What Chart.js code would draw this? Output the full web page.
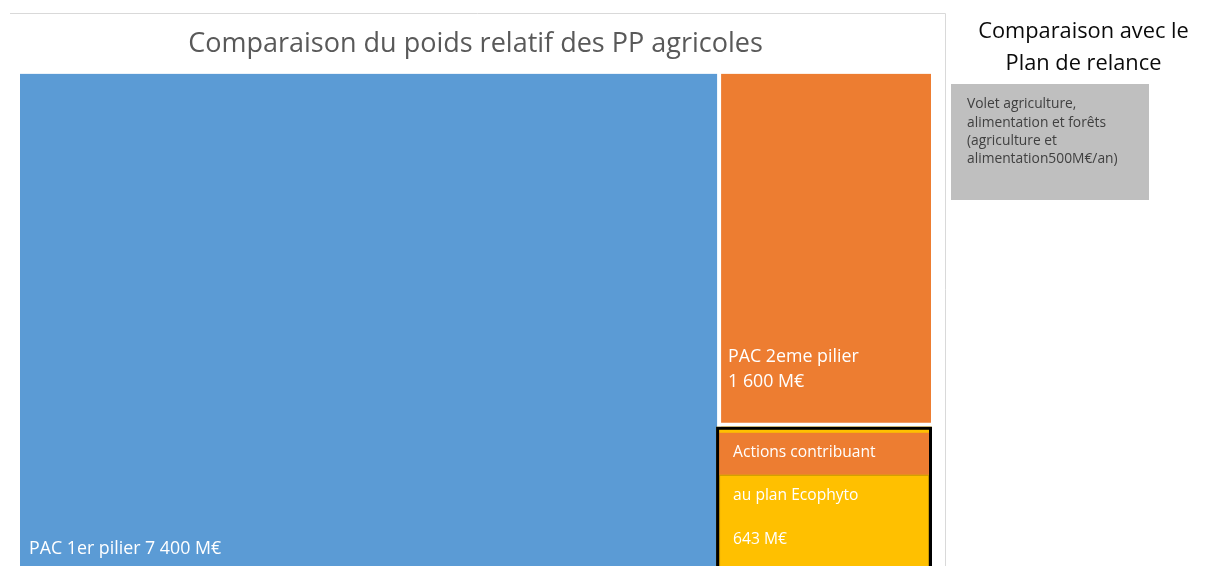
<!DOCTYPE html>
<html><head><meta charset="utf-8">
<script src="https://cdn.jsdelivr.net/npm/chart.js@4.4.1/dist/chart.umd.min.js"></script>
<style>html,body{margin:0;padding:0;background:#fff}#wrap{width:1209px;height:566px;position:relative;overflow:hidden}</style>
</head><body><div id="wrap"><canvas id="c" width="1209" height="566"></canvas></div>
<script>
// ---- data ----
const chartTitle = 'Comparaison du poids relatif des PP agricoles';
const categories = ['PAC 1er pilier', 'PAC 2eme pilier', 'Actions contribuant au plan Ecophyto'];
const values = [7400, 1600, 643];
const valueLabels = ['7 400 M€', '1 600 M€', '643 M€'];
const ecophytoLines = ['Actions contribuant', 'au plan Ecophyto'];
const colors = ['#5b9bd5', '#ed7d31', '#ffc000'];
const sideTitle = ['Comparaison avec le', 'Plan de relance'];
const sideBoxLines = ['Volet agriculture,', 'alimentation et forêts', '(agriculture et', 'alimentation500M€/an)'];

// ---- treemap layout derived from the values ----
const total = values.reduce((a, b) => a + b, 0);
const colSplit = values[0];
const ySplit = values[2] / (values[1] + values[2]);

const FONT = '"Open Sans", "Noto Sans", sans-serif';
const base = {borderWidth: 0, borderColor: 'transparent', pointRadius: 0, pointHoverRadius: 0, showLine: true, tension: 0};

const decor = {
  id: 'decor',
  beforeDraw(chart) {
    const ctx = chart.ctx;
    ctx.save();
    ctx.strokeStyle = '#d9d9d9'; ctx.lineWidth = 1;
    ctx.beginPath(); ctx.moveTo(10, 13.5); ctx.lineTo(945.5, 13.5); ctx.lineTo(945.5, 566); ctx.stroke();
    ctx.restore();
  },
  afterDatasetsDraw(chart) {
    const ctx = chart.ctx, xs = chart.scales.x, ys = chart.scales.y;
    const px0 = xs.getPixelForValue(0), pxS = xs.getPixelForValue(colSplit), px1 = xs.getPixelForValue(total);
    const pyTop = ys.getPixelForValue(1), pyBot = ys.getPixelForValue(0), pyS = ys.getPixelForValue(ySplit);
    ctx.save();
    // white gaps between tiles
    ctx.strokeStyle = '#fff'; ctx.lineWidth = 4;
    ctx.beginPath(); ctx.moveTo(pxS, pyTop - 1); ctx.lineTo(pxS, pyBot + 1); ctx.stroke();
    ctx.beginPath(); ctx.moveTo(pxS, pyS); ctx.lineTo(px1 + 1, pyS); ctx.stroke();
    // tile labels
    ctx.fillStyle = '#fff'; ctx.textBaseline = 'alphabetic'; ctx.textAlign = 'left';
    ctx.font = '17.8px ' + FONT;
    ctx.fillText(categories[0] + ' ' + valueLabels[0], px0 + 9, pyBot - 12);
    ctx.fillText(categories[1], pxS + 9, pyS - 63);
    ctx.fillText(valueLabels[1], pxS + 9, pyS - 38);
    // Ecophyto overlay box
    const L = pxS - 3, R = px1 + 1, T = pyS + 2, B = pyBot + 6;
    ctx.fillStyle = colors[2]; ctx.fillRect(L, T, R - L, B - T);
    ctx.fillStyle = colors[1]; ctx.fillRect(L + 3, T + 6, R - L - 5, 42);
    ctx.strokeStyle = '#c99700'; ctx.lineWidth = 1;
    ctx.strokeRect(L + 3.5, T + 48.5, R - L - 7, B - T);
    ctx.strokeStyle = '#000'; ctx.lineWidth = 3;
    ctx.strokeRect(L + 1.5, T + 1.5, R - L - 3, B - T + 10);
    ctx.fillStyle = '#fff'; ctx.font = '15.6px ' + FONT;
    ctx.fillText(ecophytoLines[0], L + 17, T + 30);
    ctx.fillText(ecophytoLines[1], L + 17, T + 73);
    ctx.fillText(valueLabels[2], L + 17, T + 117);
    // side panel
    ctx.fillStyle = '#0a0a0a'; ctx.textAlign = 'center'; ctx.font = '21.8px ' + FONT;
    ctx.fillText(sideTitle[0], 1083.5, 38);
    ctx.fillText(sideTitle[1], 1083.5, 70);
    ctx.fillStyle = '#bfbfbf'; ctx.fillRect(951, 84, 198, 116);
    ctx.fillStyle = '#404040'; ctx.textAlign = 'left'; ctx.font = '13.8px ' + FONT;
    const bl = [108, 127, 145, 163];
    sideBoxLines.forEach((t, i) => ctx.fillText(t, 967, bl[i]));
    ctx.restore();
  }
};

new Chart(document.getElementById('c'), {
  type: 'scatter',
  data: {
    datasets: [
      Object.assign({}, base, {label: categories[0], data: [{x: 0, y: 1}, {x: colSplit, y: 1}], fill: 'origin', backgroundColor: colors[0]}),
      Object.assign({}, base, {label: categories[1], data: [{x: colSplit, y: 1}, {x: total, y: 1}], fill: {value: ySplit}, backgroundColor: colors[1]}),
      Object.assign({}, base, {label: categories[2], data: [{x: colSplit, y: ySplit}, {x: total, y: ySplit}], fill: 'origin', backgroundColor: colors[2]})
    ]
  },
  options: {
    responsive: false, animation: false, events: [],
    layout: {padding: {left: 20, right: 278, top: 14, bottom: 0}},
    scales: {
      x: {type: 'linear', min: 0, max: total, display: false},
      y: {type: 'linear', min: 0, max: 1, display: false}
    },
    plugins: {
      legend: {display: false}, tooltip: {enabled: false},
      title: {display: true, text: chartTitle, color: '#595959', font: {family: FONT, size: 27, weight: 'normal', lineHeight: 1.2}, padding: {top: 14, bottom: 13}}
    }
  },
  plugins: [decor]
});
</script></body></html>
